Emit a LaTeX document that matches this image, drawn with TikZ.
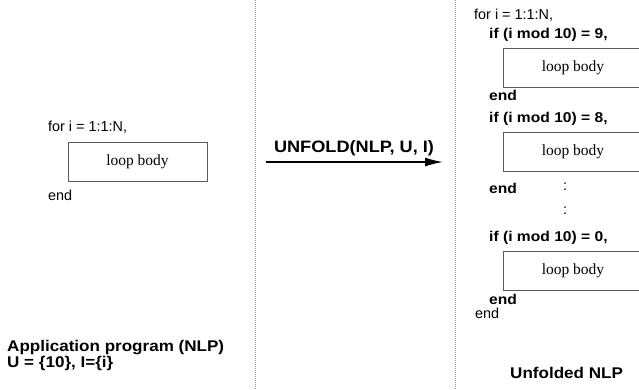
\documentclass[tikz,border=0pt]{standalone}
\usepackage{fontspec}
\setmainfont{Liberation Sans}[BoldFeatures={FakeStretch=1.1}]
\newfontfamily\bodyfont{Liberation Serif}
\usetikzlibrary{arrows.meta}

\begin{document}
\begin{tikzpicture}[x=1pt, y=-1pt,
	code/.style={inner sep=0, anchor=base west, font=\fontsize{14.4}{16}\selectfont},
	bcode/.style={code, font=\fontsize{14.2}{16}\selectfont\bfseries},
	title/.style={inner sep=0, anchor=base west, font=\fontsize{15.5}{17}\selectfont\bfseries},
	bodybox/.style={draw=black!65, line width=0.8pt, inner sep=0, minimum width=139, minimum height=39, font=\fontsize{15.5}{17}\bodyfont}]
	\clip (0,0) rectangle (639,389);

	% separators
	\draw[gray!80, line width=0.8pt, dash pattern=on 1pt off 1pt] (255,0) -- (255,389);
	\draw[gray!80, line width=0.8pt, dash pattern=on 1pt off 1pt] (455,0) -- (455,389);

	% application program
	\node[code] (for0) at (48,131) {for i = 1:1:N,};
	\node[bodybox] (body0) at (137.5,161.5) {loop body};
	\node[code] (end0) at (48,200) {end};
	\node[title] (app) at (7,351) {Application program (NLP)};
	\node[title] (uset) at (7,367) {U = \{10\}, I=\{i\}};

	% unfold step
	\coordinate (ustart) at (266,162);
	\coordinate (uend) at (443,162);
	\draw[line width=1.5pt, -{Latex[length=18pt, width=9pt]}] (ustart) -- (uend);
	\node[title, anchor=base, font=\fontsize{16.5}{18}\selectfont\bfseries] (unfold) at (354,152) {UNFOLD(NLP, U, I)};

	% unfolded program
	\node[code] (for1) at (474,19) {for i = 1:1:N,};
	\foreach \k/\v/\y/\e in {1/9/38/100, 2/8/122/193, 3/0/241/304}
	{
		\node[bcode] (if\k) at (489,\y) {if (i mod 10) = \v,};
		\node[bodybox] (body\k) at (573,\y+29.5) {loop body};
		\node[bcode] (end\k) at (489,\e) {end};
	}
	\node[code, anchor=center] (dot1) at (565,187) {:};
	\node[code, anchor=center] (dot2) at (565,211) {:};
	\node[code] (endr) at (475,318) {end};
	\node[title] (unf) at (510,378) {Unfolded NLP};
\end{tikzpicture}
\end{document}
